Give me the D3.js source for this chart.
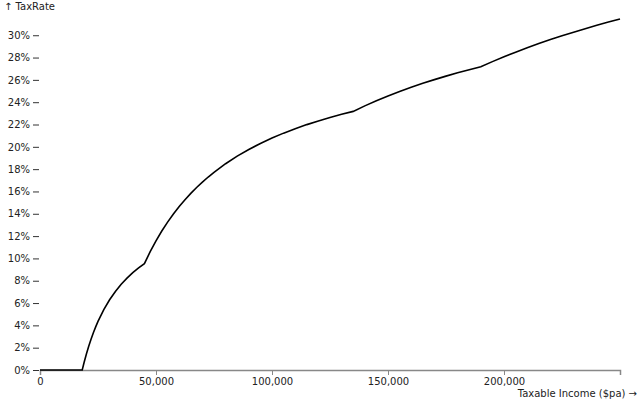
<!DOCTYPE html>
<html><head><meta charset="utf-8">
<script src="https://cdn.jsdelivr.net/npm/d3@7"></script>
<style>body{margin:0;background:#fff}svg{font-family:"DejaVu Sans",sans-serif;font-size:10px}</style>
</head><body>
<script>
const incomes = [0,18200,19000,20000,21000,22000,23000,24000,25000,27500,30000,32500,35000,37500,40000,42500,45000,47500,50000,52500,55000,57500,60000,62500,65000,67500,70000,72500,75000,80000,85000,90000,95000,100000,105000,110000,115000,120000,125000,130000,135000,140000,145000,150000,155000,160000,165000,170000,175000,180000,185000,190000,195000,200000,205000,210000,215000,220000,225000,230000,235000,240000,245000,250000];
const taxRates = [0,0,0.674,1.44,2.133,2.764,3.339,3.867,4.352,5.411,6.293,7.040,7.680,8.235,8.72,9.148,9.529,10.606,11.576,12.453,13.251,13.979,14.647,15.261,15.828,16.353,16.840,17.294,17.717,18.485,19.162,19.764,20.303,20.788,21.227,21.625,21.990,22.323,22.630,22.914,23.176,23.670,24.130,24.559,24.960,25.336,25.690,26.022,26.336,26.632,26.913,27.178,27.635,28.069,28.482,28.875,29.250,29.608,29.950,30.277,30.591,30.891,31.179,31.455];
const yTicks = [0,2,4,6,8,10,12,14,16,18,20,22,24,26,28,30];
const xTicks = [0,50000,100000,150000,200000];

const W=640,H=400;
const data = incomes.map((d,i)=>({x:d,y:taxRates[i]}));
const x = d3.scaleLinear().domain([0,250000]).range([40,620]);
const y = d3.scaleLinear().domain([0,31.455]).range([370,19]);
const svg = d3.select("body").append("svg").attr("width",W).attr("height",H);

const ya = svg.append("g").attr("transform","translate(39,0)")
  .call(d3.axisLeft(y).tickValues(yTicks).tickFormat(d=>d+"%").tickSize(6).tickPadding(3));
ya.select(".domain").remove();
ya.selectAll("text").attr("fill","#222").style("font-size","10px").style("font-family","DejaVu Sans, sans-serif");
ya.selectAll("line").attr("stroke","#333");

const xa = svg.append("g").attr("transform","translate(0,370)")
  .call(d3.axisBottom(x).tickValues(xTicks).tickFormat(d3.format(",")).tickSize(5).tickPadding(3));
xa.select(".domain").attr("stroke","#888").attr("stroke-width",1.5);
xa.selectAll("line").attr("stroke","#888");
xa.selectAll("text").attr("fill","#222").style("font-size","10px").style("font-family","DejaVu Sans, sans-serif");

svg.append("path").datum(data)
  .attr("fill","none").attr("stroke","#000").attr("stroke-width",1.6)
  .attr("d", d3.line().x(d=>x(d.x)).y(d=>y(d.y)));

svg.append("text").attr("x",4).attr("y",10).attr("fill","#222").text("↑ TaxRate");
svg.append("text").attr("x",637).attr("y",397).attr("text-anchor","end").attr("fill","#222").text("Taxable Income ($pa) →");
</script>
</body></html>
